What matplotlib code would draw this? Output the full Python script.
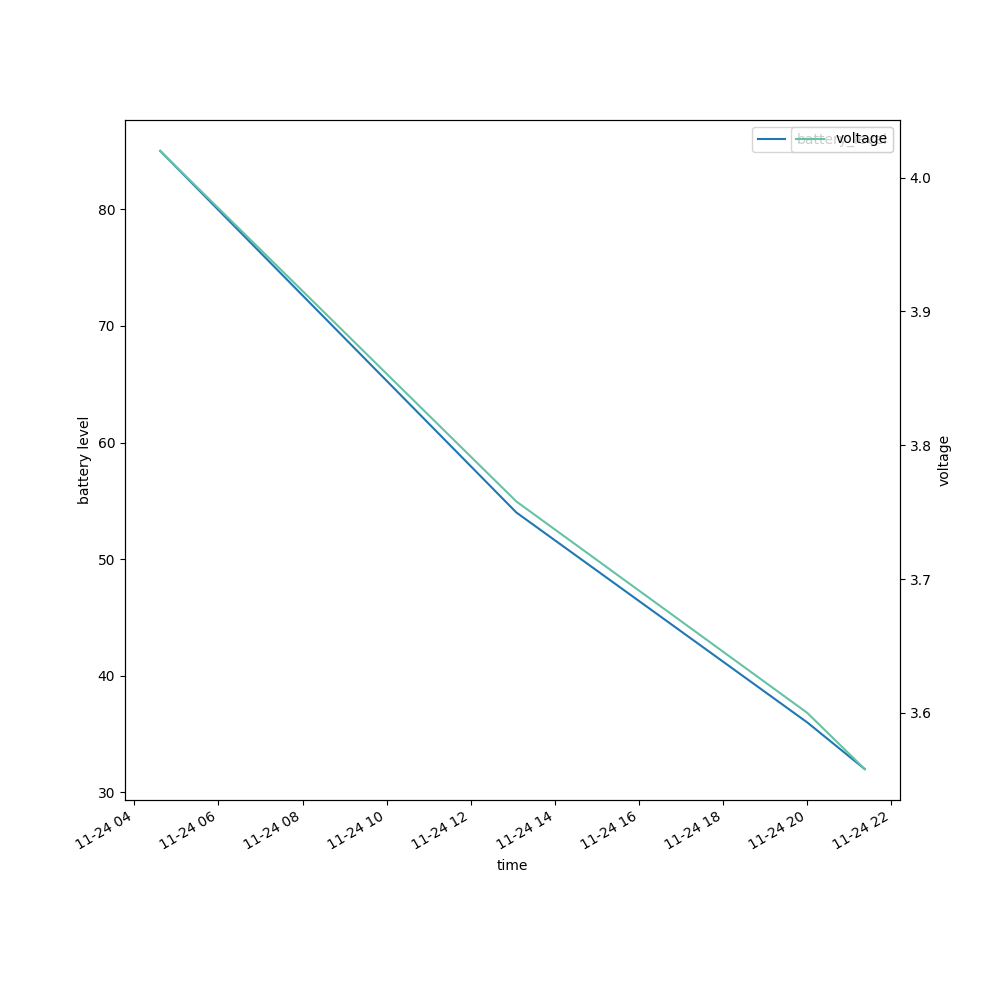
import matplotlib
matplotlib.use('Agg')
import matplotlib.pyplot as plt
import pandas as pd

#readings
times = pd.to_datetime(['2023-11-24 04:37', '2023-11-24 13:05', '2023-11-24 20:00', '2023-11-24 21:22'])
battery_level = [85, 54, 36, 32]
voltage = [4.02, 3.758, 3.6, 3.558]

fig, ax = plt.subplots(figsize=(10, 10), dpi=100)
ax.plot(times, battery_level, color='tab:blue', label='battery_level')
ax.set_xlabel('time')
ax.set_ylabel('battery level')
ax.legend(loc='upper right')

ax2 = ax.twinx()
ax2.plot(times, voltage, color='#66c2a5', label='voltage')
ax2.set_ylabel('voltage')
ax2.legend(loc='upper right')

fig.autofmt_xdate()
fig.savefig('out.png')
